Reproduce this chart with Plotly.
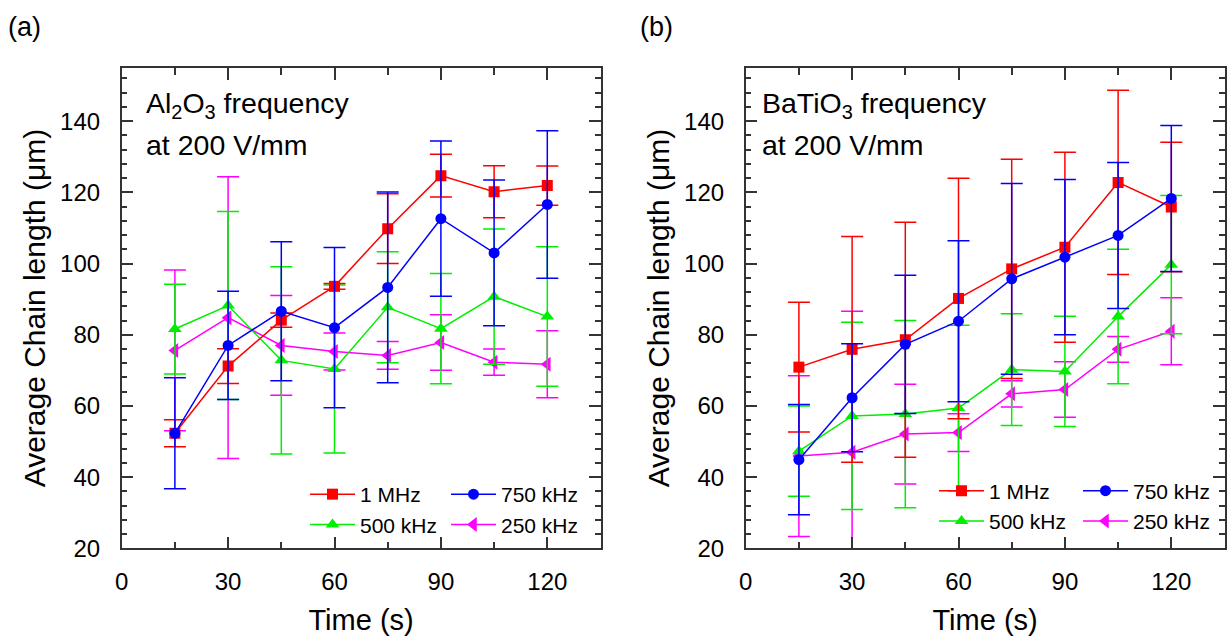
import plotly.graph_objects as go

# ---------------- data ----------------
time_s = [15, 30, 45, 60, 75, 90, 105, 120]
x_ticks = [0, 30, 60, 90, 120]
y_ticks = [20, 40, 60, 80, 100, 120, 140]

series_names = ["1 MHz", "750 kHz", "500 kHz", "250 kHz"]

# (a) Al2O3
al_1mhz = [52.3, 71.2, 84.1, 93.6, 109.8, 124.7, 120.2, 121.9]
al_1mhz_err = [3.8, 4.9, 2.0, 0.8, 9.8, 6.0, 7.3, 5.5]
al_750k = [52.3, 77.0, 86.6, 82.0, 93.3, 112.6, 103.0, 116.6]
al_750k_err = [15.6, 15.2, 19.5, 22.5, 26.8, 21.8, 20.5, 20.7]
al_500k = [81.6, 88.2, 72.8, 70.4, 87.7, 81.7, 90.7, 85.1]
al_500k_err = [12.6, 26.4, 26.3, 23.6, 15.6, 15.5, 19.0, 19.6]
al_250k = [75.6, 84.8, 77.0, 75.3, 74.2, 77.8, 72.3, 71.7]
al_250k_err = [22.6, 39.6, 14.0, 5.2, 3.9, 7.8, 3.7, 9.4]

# (b) BaTiO3
bt_1mhz = [70.9, 75.9, 78.6, 90.2, 98.5, 104.6, 122.8, 115.9]
bt_1mhz_err = [18.2, 31.7, 33.0, 33.8, 30.8, 26.7, 25.9, 18.2]
bt_750k = [44.9, 62.3, 77.3, 83.8, 95.7, 101.8, 107.9, 118.3]
bt_750k_err = [15.5, 15.2, 19.4, 22.6, 26.8, 21.8, 20.5, 20.5]
bt_500k = [47.3, 57.2, 57.7, 59.4, 70.2, 69.7, 85.1, 99.7]
bt_500k_err = [12.7, 26.3, 26.3, 23.3, 15.7, 15.5, 18.9, 19.4]
bt_250k = [45.9, 47.0, 52.1, 52.5, 63.4, 64.6, 75.9, 81.0]
bt_250k_err = [22.6, 39.6, 14.0, 5.3, 3.7, 7.8, 3.6, 9.4]

# ---------------- styling ----------------
W, H = 1228, 640
FONT = "Arial, Liberation Sans, sans-serif"
colors = {"1 MHz": "#FF0000", "750 kHz": "#0000FF", "500 kHz": "#00EE00", "250 kHz": "#FF00FF"}
symbols = {"1 MHz": "square", "750 kHz": "circle", "500 kHz": "triangle-up", "250 kHz": "triangle-left"}
msize = {"1 MHz": 11, "750 kHz": 11, "500 kHz": 12, "250 kHz": 13}


def fx(px):
    return px / W


def fy(py):
    return 1 - py / H


fig = go.Figure()

panels = [
    ("x", "y", {"1 MHz": (al_1mhz, al_1mhz_err), "750 kHz": (al_750k, al_750k_err),
                "500 kHz": (al_500k, al_500k_err), "250 kHz": (al_250k, al_250k_err)},
     {"1 MHz": "legend", "500 kHz": "legend", "750 kHz": "legend2", "250 kHz": "legend2"}),
    ("x2", "y2", {"1 MHz": (bt_1mhz, bt_1mhz_err), "750 kHz": (bt_750k, bt_750k_err),
                  "500 kHz": (bt_500k, bt_500k_err), "250 kHz": (bt_250k, bt_250k_err)},
     {"1 MHz": "legend3", "500 kHz": "legend3", "750 kHz": "legend4", "250 kHz": "legend4"}),
]

draw_order = ["250 kHz", "500 kHz", "1 MHz", "750 kHz"]
legend_order = {"1 MHz": 1, "500 kHz": 2, "750 kHz": 1, "250 kHz": 2}

for xa, ya, data, legs in panels:
    for name in draw_order:
        vals, errs = data[name]
        c = colors[name]
        fig.add_trace(go.Scatter(
            x=time_s, y=vals, xaxis=xa, yaxis=ya, name=name,
            mode="lines+markers",
            line=dict(color=c, width=1.5),
            marker=dict(symbol=symbols[name], size=msize[name], color=c),
            error_y=dict(type="data", array=errs, visible=True, color=c, thickness=1.5, width=11),
            legend=legs[name], legendrank=legend_order[name],
            showlegend=True,
        ))

axis_common = dict(
    showline=True, linecolor="#333333", linewidth=1.5, mirror="allticks",
    ticks="inside", ticklen=12, tickwidth=1.5, tickcolor="#333333",
    showgrid=False, zeroline=False, automargin=False,
    tickfont=dict(family=FONT, size=24, color="black"),
)

xcfg = dict(axis_common, range=[0, 135], tickmode="array", tickvals=x_ticks,
            minor=dict(ticks="inside", ticklen=7, tickwidth=1.5, tickcolor="#333333", dtick=15, tick0=0),
            ticklabelstandoff=11,
            title=dict(text="Time (s)", font=dict(family=FONT, size=29, color="black"), standoff=16))
ycfg = dict(axis_common, range=[20, 155], tickmode="array", tickvals=y_ticks,
            minor=dict(ticks="inside", ticklen=6, tickwidth=1.5, tickcolor="#333333", dtick=4, tick0=20),
            ticklabelstandoff=15,
            title=dict(text="Average Chain length (μm)", font=dict(family=FONT, size=30, color="black"), standoff=6))

fig.update_layout(
    width=W, height=H,
    margin=dict(l=0, r=0, t=0, b=0, autoexpand=False),
    paper_bgcolor="white", plot_bgcolor="white",
    font=dict(family=FONT, color="black"),
    xaxis=dict(xcfg, domain=[fx(121.7), fx(600.5)], anchor="y"),
    yaxis=dict(ycfg, domain=[fy(548.3), fy(67.8)], anchor="x"),
    xaxis2=dict(xcfg, domain=[fx(745.7), fx(1224.5)], anchor="y2"),
    yaxis2=dict(ycfg, domain=[fy(548.3), fy(67.8)], anchor="x2"),
)

leg_common = dict(orientation="v", bgcolor="rgba(0,0,0,0)", borderwidth=0,
                  font=dict(family=FONT, size=21, color="black"),
                  xanchor="left", yanchor="middle", itemwidth=45, tracegroupgap=0,
                  traceorder="normal")
fig.update_layout(
    legend=dict(leg_common, x=fx(305), y=fy(509.5)),
    legend2=dict(leg_common, x=fx(446), y=fy(509.5)),
    legend3=dict(leg_common, x=fx(934), y=fy(506)),
    legend4=dict(leg_common, x=fx(1078), y=fy(506)),
)

ann_font = dict(family=FONT, size=28.5, color="black")
annotations = [
    dict(text="Al<sub>2</sub>O<sub>3</sub> frequency", x=fx(144), y=fy(105)),
    dict(text="at 200 V/mm", x=fx(144), y=fy(145)),
    dict(text="BaTiO<sub>3</sub> frequency", x=fx(760), y=fy(105)),
    dict(text="at 200 V/mm", x=fx(760), y=fy(145)),
]
for a in annotations:
    fig.add_annotation(xref="paper", yref="paper", xanchor="left", yanchor="middle",
                       showarrow=False, font=ann_font, **a)

for lab, px in [("(a)", 6), ("(b)", 638)]:
    fig.add_annotation(text=lab, xref="paper", yref="paper", x=fx(px), y=fy(27),
                       xanchor="left", yanchor="middle", showarrow=False,
                       font=dict(family=FONT, size=27, color="black"))

fig.write_html("out.html", config={"displayModeBar": False},
               post_script="document.body.style.margin='0';document.body.style.overflow='hidden';")
